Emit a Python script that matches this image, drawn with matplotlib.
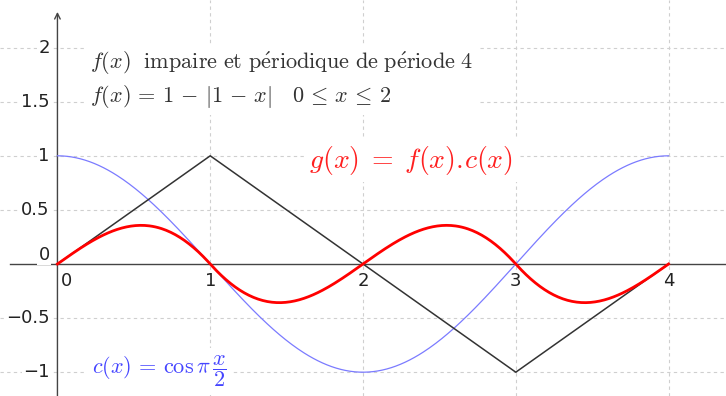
import numpy as np
import matplotlib.pyplot as plt

plt.rcParams['mathtext.fontset'] = 'cm'

# f(x): odd, period 4, f(x) = 1 - |1 - x| on [0, 2] -> vertices of the zigzag
f_x = [0, 1, 3, 4]
f_y = [0, 1, -1, 0]

# grid / tick positions
x_ticks = [0, 1, 2, 3, 4]
y_ticks = [-1, -0.5, 0, 0.5, 1, 1.5, 2]
y_tick_labels = ['\u22121', '\u22120.5', '0', '0.5', '1', '1.5', '2']

# curves are defined by the formulas written on the chart
xs = np.linspace(0, 4, 400)
c_ys = np.cos(np.pi * xs / 2)
f_ys = np.interp(xs, f_x, f_y)
g_ys = f_ys * c_ys

fig = plt.figure(figsize=(7.26, 3.96), dpi=100)
ax = fig.add_axes([0, 0, 1, 1])
ax.set_xlim(-0.376, 4.376)
ax.set_ylim(-1.22, 2.44)
ax.axis('off')

grid_kw = dict(color='#cfcfcf', lw=0.8, ls=(0, (3, 3)), zorder=0)
for y in y_ticks:
    if y != 0:
        ax.axhline(y, **grid_kw)
for x in x_ticks[1:]:
    ax.axvline(x, **grid_kw)

# axes
ax.plot([-0.31, 4.376], [0, 0], color='#444444', lw=1.0, zorder=1)
ax.annotate('', xy=(0, 2.33), xytext=(0, -1.22),
            arrowprops=dict(arrowstyle='->', color='#444444', lw=1.0,
                            shrinkA=0, shrinkB=0), zorder=1)

# tick labels
lab_kw = dict(fontsize=13, color='#222222', family='DejaVu Sans',
              bbox=dict(fc='white', ec='none', pad=1), zorder=2)
for x in x_ticks:
    if x == 0:
        ax.text(0.06, -0.155, '0', ha='center', va='center', **lab_kw)
    else:
        ax.text(x, -0.155, str(x), ha='center', va='center', **lab_kw)
for y, lab in zip(y_ticks, y_tick_labels):
    yy = 0.085 if y == 0 else y
    ax.text(-0.05, yy, lab, ha='right', va='center', **lab_kw)

# curves
ax.plot(xs, c_ys, color='#7b7bff', lw=0.9, zorder=3)
ax.plot(f_x, f_y, color='#333333', lw=1.1, zorder=3)
ax.plot(xs, g_ys, color='#ff0000', lw=2.0, zorder=4)

# annotations
box = dict(fc='white', ec='none', pad=4)
ax.text(0.215, 1.70,
        r'$f(x)\ \ \mathrm{impaire\ et\ p\acute{e}riodique\ de\ p\acute{e}riode\ 4}$'
        '\n'
        r'$f(x) \,=\, 1 \,-\, |1 \,-\, x| \quad 0 \,\leq\, x \,\leq\, 2$',
        fontsize=16, color='#333333', ha='left', va='center',
        linespacing=1.3, bbox=box, zorder=2)
ax.text(2.314, 0.96, r'$g(x) \;=\; f(x).\!c(x)$', fontsize=20, color='#ff2020',
        ha='center', va='center', bbox=box, zorder=2)
ax.text(0.225, -0.99, r'$c(x) \,=\, \cos\pi\,\dfrac{x}{2}$', fontsize=16,
        color='#4444ff', ha='left', va='center', bbox=box, zorder=2)

fig.savefig('out.png', dpi=100)
